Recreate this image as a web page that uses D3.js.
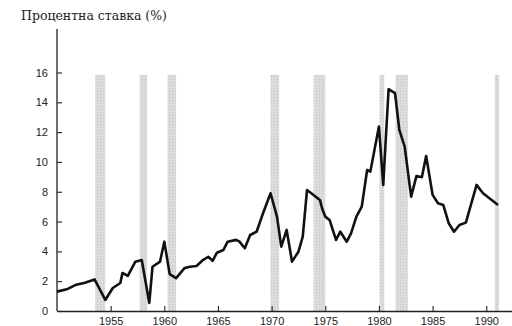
<!DOCTYPE html>
<html>
<head>
<meta charset="utf-8">
<script src="https://cdn.jsdelivr.net/npm/d3@7"></script>
<style>
  body { margin: 0; background: #fff; }
  svg { display: block; }
</style>
</head>
<body>
<script>
var w = 512, h = 326;

// recession periods (start, end), shaded
var recStart = [1953.55, 1957.7, 1960.3, 1969.9, 1973.9, 1980.05, 1981.55, 1990.8];
var recEnd   = [1954.5, 1958.4, 1961.1, 1970.7, 1975.0, 1980.5, 1982.7, 1991.2];

// interest rate
var years = [1950.0, 1951.0, 1951.7, 1952.6, 1953.5, 1954.5, 1955.2, 1955.9, 1956.1, 1956.6,
             1957.3, 1957.9, 1958.6, 1958.9, 1959.6, 1960.0, 1960.5, 1961.1, 1961.9, 1962.4,
             1963.0, 1963.6, 1964.1, 1964.5, 1964.9, 1965.5, 1965.9, 1966.7, 1967.0, 1967.5,
             1968.0, 1968.6, 1969.2, 1969.9, 1970.5, 1970.9, 1971.4, 1971.9, 1972.5, 1972.9,
             1973.3, 1974.5, 1974.7, 1975.0, 1975.4, 1976.0, 1976.4, 1977.0, 1977.4, 1977.9,
             1978.4, 1978.9, 1979.2, 1980.0, 1980.4, 1980.9, 1981.5, 1981.9, 1982.4, 1983.0,
             1983.5, 1984.0, 1984.4, 1985.0, 1985.5, 1986.0, 1986.5, 1987.0, 1987.5, 1988.1,
             1989.1, 1989.7, 1991.1];
var rates = [1.30, 1.48, 1.74, 1.90, 2.12, 0.74, 1.54, 1.88, 2.55, 2.35,
             3.31, 3.42, 0.54, 2.97, 3.31, 4.65, 2.48, 2.21, 2.89, 2.97,
             3.02, 3.42, 3.64, 3.36, 3.91, 4.09, 4.65, 4.77, 4.65, 4.21,
             5.10, 5.32, 6.56, 7.90, 6.33, 4.32, 5.44, 3.31, 3.98, 4.99,
             8.12, 7.45, 6.89, 6.33, 6.11, 4.77, 5.32, 4.65, 5.21, 6.33,
             7.00, 9.46, 9.35, 12.37, 8.46, 14.88, 14.61, 12.15, 11.03, 7.67,
             9.06, 8.97, 10.40, 7.79, 7.23, 7.11, 5.89, 5.32, 5.77, 5.93,
             8.46, 7.90, 7.11];

var xTicks = [1955, 1960, 1965, 1970, 1975, 1980, 1985, 1990];
var yTicks = [0, 2, 4, 6, 8, 10, 12, 14, 16];
var title = "Процентна ставка (%)";

var x = d3.scaleLinear().domain([1950, 1992.4]).range([57, 512]);
var y = d3.scaleLinear().domain([0, 16]).range([311, 72.5]);

var svg = d3.select("body").append("svg")
            .attr("width", w)
            .attr("height", h);

// stipple pattern for the shaded bands
var pat = svg.append("defs").append("pattern")
             .attr("id", "stip")
             .attr("width", 3).attr("height", 3)
             .attr("patternUnits", "userSpaceOnUse");
pat.append("rect").attr("width", 3).attr("height", 3).attr("fill", "#dcdcdc");
pat.append("rect").attr("x", 1).attr("y", 1).attr("width", 1).attr("height", 1).attr("fill", "#c4c4c4");

svg.selectAll("rect.rec")
   .data(recStart)
   .enter()
   .append("rect")
   .attr("class", "rec")
   .attr("x", function(d){ return x(d); })
   .attr("width", function(d, i){ return x(recEnd[i]) - x(d); })
   .attr("y", y(15.85))
   .attr("height", y(0) - y(15.85))
   .attr("fill", "url(#stip)");

// axes
var xAxis = d3.axisBottom(x).tickValues(xTicks).tickSizeInner(-5).tickSizeOuter(0).tickPadding(8).tickFormat(d3.format("d"));
var yAxis = d3.axisLeft(y).tickValues(yTicks).tickSizeInner(-5).tickSizeOuter(0).tickPadding(9);

var gx = svg.append("g").attr("transform", "translate(0," + y(0) + ")").call(xAxis);
var gy = svg.append("g").attr("transform", "translate(" + x(1950) + ",0)").call(yAxis);

gy.select(".domain").attr("d", "M0," + y(0) + "V29");

[gx, gy].forEach(function(g){
    g.select(".domain").attr("stroke", "#222").attr("stroke-width", 1.3);
    g.selectAll(".tick line").attr("stroke", "#222").attr("stroke-width", 1.1);
    g.selectAll(".tick text")
     .attr("fill", "#222")
     .style("font-family", "'Liberation Sans', Arial, sans-serif")
     .style("font-size", "11px");
});
gx.selectAll(".tick text").attr("dy", "0.55em");

// the rate line
var line = d3.line()
             .x(function(d, i){ return x(years[i]); })
             .y(function(d){ return y(d); });

svg.append("path")
   .datum(rates)
   .attr("d", line)
   .attr("fill", "none")
   .attr("stroke", "#111")
   .attr("stroke-width", 2.6)
   .attr("stroke-linejoin", "round");

svg.append("text")
   .attr("x", 21)
   .attr("y", 20)
   .attr("textLength", 146)
   .style("font-family", "'DejaVu Serif', 'Liberation Serif', serif")
   .style("font-size", "12.5px")
   .attr("fill", "#222")
   .text(title);
</script>
</body>
</html>
